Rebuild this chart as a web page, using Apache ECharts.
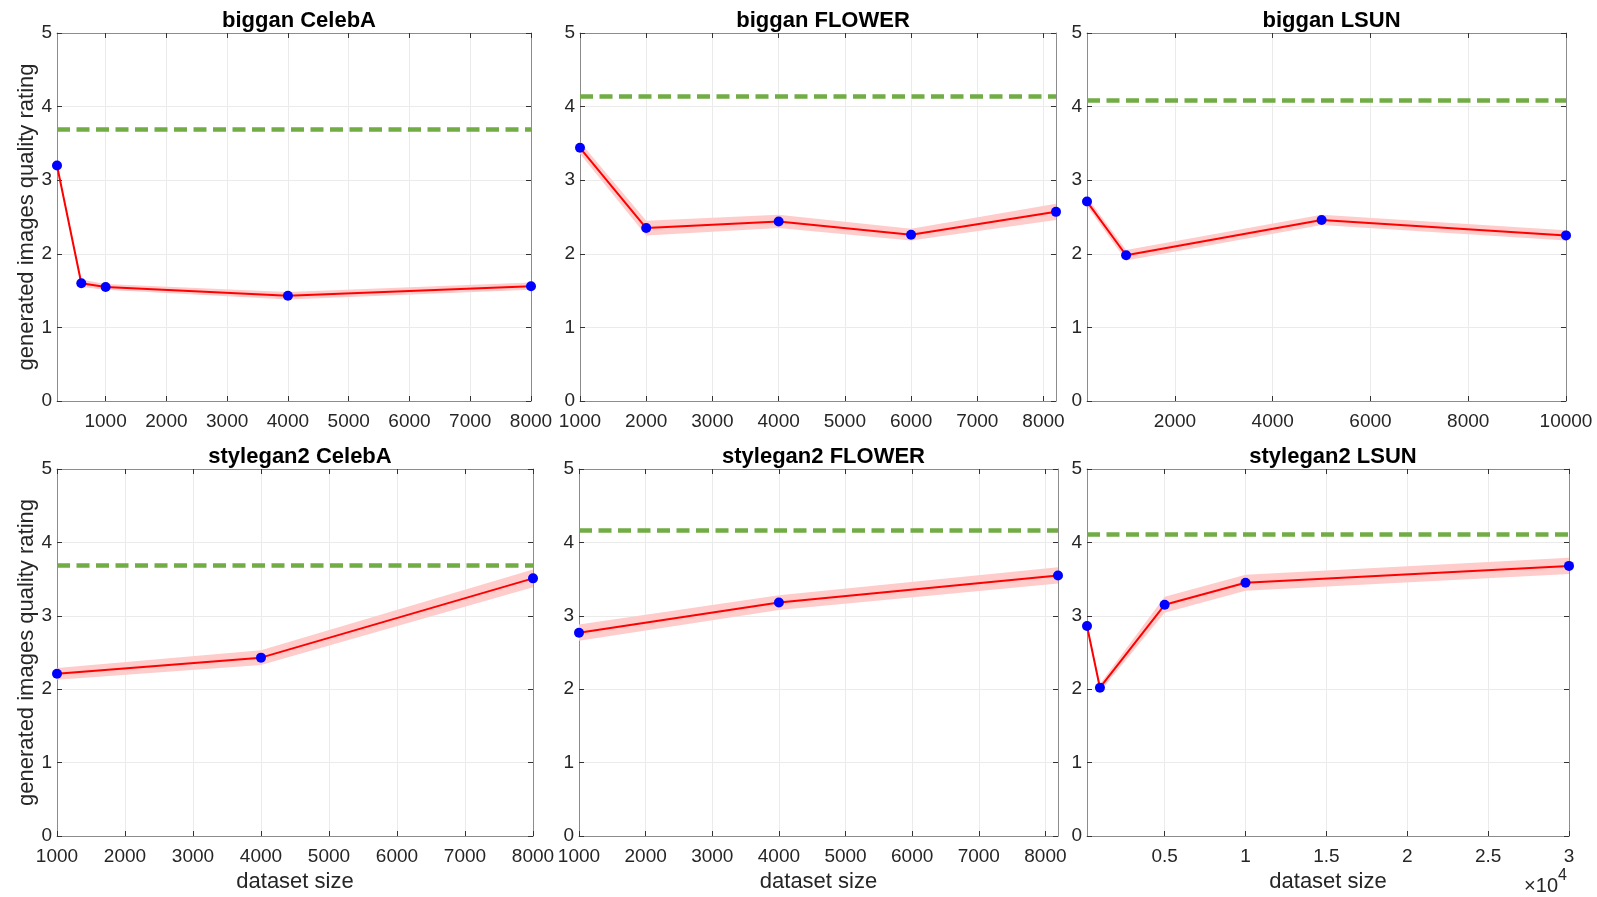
<!DOCTYPE html>
<html>
<head>
<meta charset="utf-8">
<script src="https://cdn.jsdelivr.net/npm/echarts@6/dist/echarts.min.js"></script>
<style>html,body{margin:0;padding:0;background:#fff}#c{width:1597px;height:897px}</style>
</head>
<body>
<div id="c"></div>
<script>
// ---- data ----
const titles = ['biggan CelebA', 'biggan FLOWER', 'biggan LSUN', 'stylegan2 CelebA', 'stylegan2 FLOWER', 'stylegan2 LSUN'];

const bigganCelebA_x = [200, 600, 1000, 4000, 8000];
const bigganCelebA_y = [3.20, 1.60, 1.55, 1.43, 1.56];
const bigganCelebA_err = [0.03, 0.05, 0.04, 0.05, 0.05];
const bigganCelebA_ref = 3.69;

const bigganFlower_x = [1000, 2000, 4000, 6000, 8189];
const bigganFlower_y = [3.44, 2.35, 2.44, 2.26, 2.57];
const bigganFlower_err = [0.08, 0.10, 0.09, 0.08, 0.11];
const bigganFlower_ref = 4.14;

const bigganLSUN_x = [200, 1000, 5000, 10000];
const bigganLSUN_y = [2.71, 1.98, 2.46, 2.25];
const bigganLSUN_err = [0.06, 0.07, 0.07, 0.07];
const bigganLSUN_ref = 4.08;

const styleganCelebA_x = [1000, 4000, 8000];
const styleganCelebA_y = [2.21, 2.43, 3.51];
const styleganCelebA_err = [0.08, 0.10, 0.12];
const styleganCelebA_ref = 3.69;

const styleganFlower_x = [1000, 4000, 8189];
const styleganFlower_y = [2.77, 3.18, 3.55];
const styleganFlower_err = [0.11, 0.10, 0.11];
const styleganFlower_ref = 4.16;

const styleganLSUN_x = [200, 1000, 5000, 10000, 30000];
const styleganLSUN_y = [2.86, 2.02, 3.15, 3.45, 3.68];
const styleganLSUN_err = [0.03, 0.05, 0.11, 0.11, 0.11];
const styleganLSUN_ref = 4.11;

// axis ranges and tick labels
const xRanges = [[200, 8000], [1000, 8189], [200, 10000], [1000, 8000], [1000, 8189], [200, 30000]];
const xTicks = [
  [1000, 2000, 3000, 4000, 5000, 6000, 7000, 8000],
  [1000, 2000, 3000, 4000, 5000, 6000, 7000, 8000],
  [2000, 4000, 6000, 8000, 10000],
  [1000, 2000, 3000, 4000, 5000, 6000, 7000, 8000],
  [1000, 2000, 3000, 4000, 5000, 6000, 7000, 8000],
  [5000, 10000, 15000, 20000, 25000, 30000]
];
const yTicks = [0, 1, 2, 3, 4, 5];
const yLabel = 'generated images quality rating';
const xLabel = 'dataset size';
const expBase = '×10';
const expPower = '4';

const panels = [
  [bigganCelebA_x, bigganCelebA_y, bigganCelebA_err, bigganCelebA_ref],
  [bigganFlower_x, bigganFlower_y, bigganFlower_err, bigganFlower_ref],
  [bigganLSUN_x, bigganLSUN_y, bigganLSUN_err, bigganLSUN_ref],
  [styleganCelebA_x, styleganCelebA_y, styleganCelebA_err, styleganCelebA_ref],
  [styleganFlower_x, styleganFlower_y, styleganFlower_err, styleganFlower_ref],
  [styleganLSUN_x, styleganLSUN_y, styleganLSUN_err, styleganLSUN_ref]
];

// ---- layout ----
const FONT = "'Liberation Sans', Arial, Helvetica, sans-serif";
const gridPos = [
  {left: 57, top: 33, width: 474, height: 368},
  {left: 580, top: 33, width: 476, height: 368},
  {left: 1087, top: 33, width: 479, height: 368},
  {left: 57, top: 469, width: 476, height: 367},
  {left: 579, top: 469, width: 479, height: 367},
  {left: 1087, top: 469, width: 482, height: 367}
];

const AXIS_COLOR = '#8c8c8c';
const TICK_COLOR = '#333333';
const GRID_COLOR = '#ebebeb';
const LABEL_COLOR = '#262626';

const grid = [], xAxis = [], yAxis = [], series = [], title = [];

panels.forEach((p, i) => {
  const [xs, ys, es, ref] = p;
  const g = gridPos[i];
  grid.push(Object.assign({containLabel: false}, g));
  title.push({
    text: titles[i],
    left: g.left + g.width / 2,
    top: i < 3 ? 5 : 441,
    textAlign: 'center',
    textStyle: {fontFamily: FONT, fontSize: 22, fontWeight: 'bold', color: '#000'}
  });
  const isLSUN2 = i === 5;
  const bottomRow = i >= 3;
  xAxis.push({
    type: 'value', gridIndex: i, position: 'bottom',
    min: xRanges[i][0], max: xRanges[i][1],
    name: bottomRow ? xLabel : '',
    nameLocation: 'middle', nameGap: 35,
    nameTextStyle: {fontFamily: FONT, fontSize: 22, color: LABEL_COLOR},
    axisLine: {show: true, onZero: false, lineStyle: {color: AXIS_COLOR, width: 1}},
    axisTick: {show: true, inside: true, length: 5, customValues: xTicks[i], lineStyle: {color: TICK_COLOR}},
    axisLabel: {
      show: true, customValues: xTicks[i], margin: 11,
      fontFamily: FONT, fontSize: 19, color: LABEL_COLOR,
      formatter: isLSUN2 ? (v => String(v / 10000)) : (v => String(v))
    },
    splitLine: {show: true, lineStyle: {color: GRID_COLOR, width: 1}}
  });
  xAxis.push({
    type: 'value', gridIndex: i, position: 'top',
    min: xRanges[i][0], max: xRanges[i][1],
    axisLine: {show: true, onZero: false, lineStyle: {color: AXIS_COLOR, width: 1}},
    axisTick: {show: true, inside: true, length: 5, customValues: xTicks[i], lineStyle: {color: TICK_COLOR}},
    axisLabel: {show: false},
    splitLine: {show: false}
  });
  yAxis.push({
    type: 'value', gridIndex: i, position: 'left',
    min: 0, max: 5, interval: 1,
    name: (i === 0 || i === 3) ? yLabel : '',
    nameLocation: 'middle', nameGap: 15, nameRotate: 90,
    nameTextStyle: {fontFamily: FONT, fontSize: 22, color: LABEL_COLOR},
    axisLine: {show: true, onZero: false, lineStyle: {color: AXIS_COLOR, width: 1}},
    axisTick: {show: true, inside: true, length: 5, lineStyle: {color: TICK_COLOR}},
    axisLabel: {show: true, margin: 5, fontFamily: FONT, fontSize: 19, color: LABEL_COLOR},
    splitLine: {show: true, lineStyle: {color: GRID_COLOR, width: 1}}
  });
  yAxis.push({
    type: 'value', gridIndex: i, position: 'right',
    min: 0, max: 5, interval: 1,
    axisLine: {show: true, onZero: false, lineStyle: {color: AXIS_COLOR, width: 1}},
    axisTick: {show: true, inside: true, length: 5, lineStyle: {color: TICK_COLOR}},
    axisLabel: {show: false},
    splitLine: {show: false}
  });
  const xi = i * 2, yi = i * 2;
  const lo = ys.map((y, k) => y - es[k]);
  const hi = ys.map((y, k) => y + es[k]);
  // confidence band as polygon through the axes' scales
  series.push({
    type: 'custom', xAxisIndex: xi, yAxisIndex: yi, z: 2, silent: true,
    data: xs.map((x, k) => [x, lo[k], hi[k]]),
    encode: {x: 0, y: [1, 2]},
    renderItem: (params, api) => {
      if (params.dataIndex !== 0) return null;
      const pts = [];
      for (let k = 0; k < xs.length; k++) pts.push(api.coord([xs[k], lo[k]]));
      for (let k = xs.length - 1; k >= 0; k--) pts.push(api.coord([xs[k], hi[k]]));
      return {type: 'polygon', shape: {points: pts}, style: {fill: '#ffcccc'}};
    }
  });
  series.push({
    type: 'line', xAxisIndex: xi, yAxisIndex: yi, data: [], z: 3,
    markLine: {
      silent: true, symbol: ['none', 'none'], label: {show: false},
      lineStyle: {color: '#71ac45', width: 4.5, type: [13, 6.5]},
      data: [{yAxis: ref}]
    }
  });
  series.push({
    type: 'line', xAxisIndex: xi, yAxisIndex: yi,
    data: xs.map((x, k) => [x, ys[k]]),
    clip: false, z: 4,
    lineStyle: {color: '#ff0000', width: 2},
    symbol: 'circle', symbolSize: 10, showSymbol: true,
    itemStyle: {color: '#0000ff', borderWidth: 0}
  });
});

const chart = echarts.init(document.getElementById('c'), null, {renderer: 'canvas'});
chart.setOption({
  animation: false,
  backgroundColor: '#ffffff',
  title, grid, xAxis, yAxis, series,
  graphic: [
    {
      type: 'text', x: 1558, y: 886, z: 10,
      style: {text: expBase, font: "20px 'Liberation Sans', Arial, sans-serif", fill: LABEL_COLOR, align: 'right', verticalAlign: 'middle'}
    },
    {
      type: 'text', x: 1558, y: 876, z: 10,
      style: {text: expPower, font: "16px 'Liberation Sans', Arial, sans-serif", fill: LABEL_COLOR, align: 'left', verticalAlign: 'middle'}
    }
  ]
});
</script>
</body>
</html>
